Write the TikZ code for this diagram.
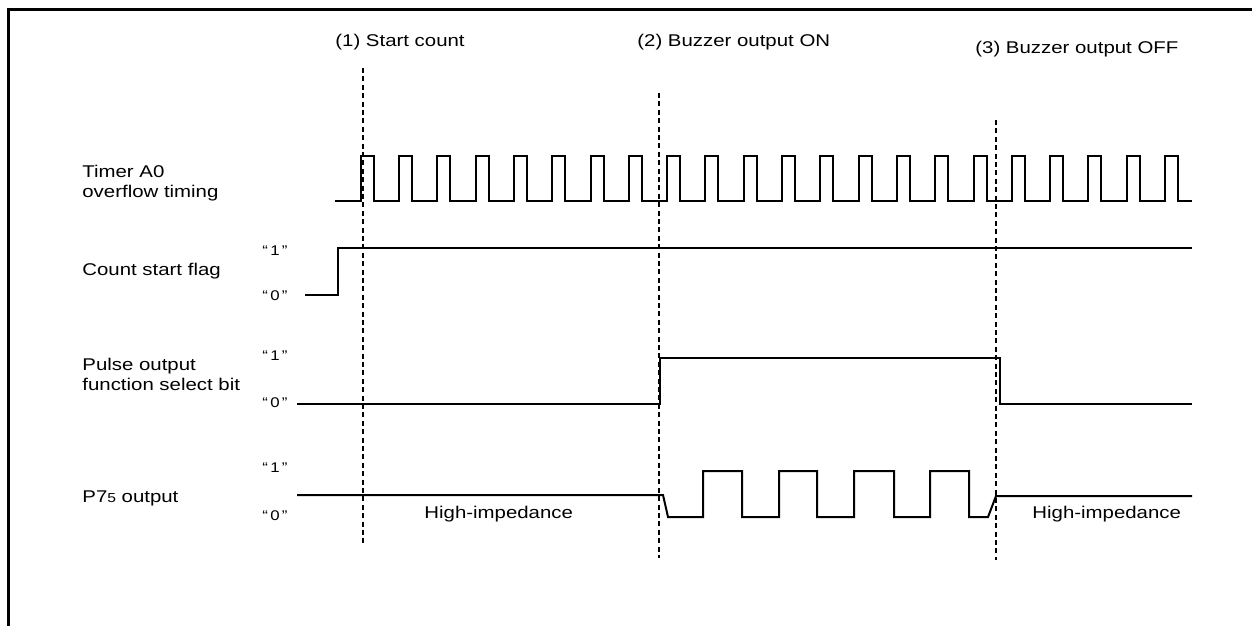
\documentclass[tikz,border=0pt]{standalone}
\usepackage{fontspec}
\setmainfont[FakeStretch=1.2]{Liberation Sans}

\tikzset{
  wave/.style={line width=1pt, line join=miter},
  marker/.style={line width=1pt, dash pattern=on 2.5pt off 1.7pt},
  siglabel/.style={anchor=north west, inner sep=0pt, align=left,
                   font=\fontsize{8.5}{10}\selectfont},
  level/.style={inner sep=0pt, font=\fontsize{7}{8}\selectfont},
  event/.style={anchor=base west, inner sep=0pt,
                font=\fontsize{8.5}{10}\selectfont}
}

\begin{document}
\begin{tikzpicture}[x=0.5pt, y=-0.5pt]
  \useasboundingbox (0,0) rectangle (1252,626);
  \draw[line width=1.5pt] (1252,10) -- (8,10) -- (8,626);

  \node[event] (start) at (335,47) {(1) Start count};
  \node[event] (bon) at (637,47) {(2) Buzzer output ON};
  \node[event] (boff) at (975,54) {(3) Buzzer output OFF};

  \node[siglabel] (timer) at (82,165) {Timer A0\\overflow timing};
  \node[siglabel] (flag) at (82,263) {Count start flag};
  \node[siglabel] (pulse) at (82,358) {Pulse output\\function select bit};
  \node[siglabel] (p7) at (82,490) {P7{\fontsize{6.5}{7}\selectfont 5} output};

  \node[level] (flaghi) at (275,251) {“\,1\,”};
  \node[level] (flaglo) at (275,296) {“\,0\,”};
  \node[level] (pulsehi) at (275,356) {“\,1\,”};
  \node[level] (pulselo) at (275,403) {“\,0\,”};
  \node[level] (p7hi) at (275,468) {“\,1\,”};
  \node[level] (p7lo) at (275,516) {“\,0\,”};

  \node[event] (hiz1) at (424,518) {High-impedance};
  \node[event] (hiz2) at (1032,518) {High-impedance};

  \draw[wave] (335,201) foreach \k in {0,...,21} {
      -- ({360.7+38.3*\k},201) -- ++(0,-45.3) -- ++(13,0) -- ++(0,45.3)}
    -- (1192,201);
  \draw[wave] (305,295) -- (337.7,295) -- (337.7,248) -- (1192,248);
  \draw[wave] (297,404) -- (660,404) -- (660,358) -- (1000,358)
    -- (1000,404) -- (1192,404);
  \draw[wave] (297,495) -- (663,495) -- (668,517) -- (703,517)
    foreach \a/\b in {703/742,779/817,854/894,930/969} {
      -- (\a,517) -- (\a,471) -- (\b,471) -- (\b,517)}
    -- (988,517) -- (996,496) -- (1192,496);

  \coordinate (m1) at (362.7,68);
  \coordinate (m2) at (659.3,93);
  \coordinate (m3) at (996,120);
  \draw[marker] (m1) -- (m1 |- 0,545);
  \draw[marker] (m2) -- (m2 |- 0,558);
  \draw[marker] (m3) -- (m3 |- 0,560);
\end{tikzpicture}
\end{document}
